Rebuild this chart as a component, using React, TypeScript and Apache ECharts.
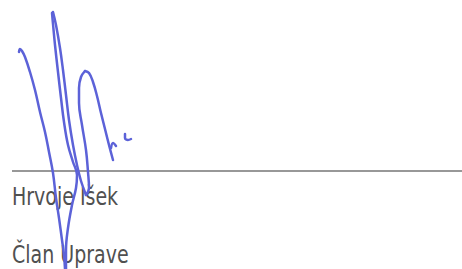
import React, { useEffect, useRef } from "react";
import * as echarts from "echarts";

const strokeLong: number[][] = [
  [19, 52], [20, 49], [22, 51], [25, 57], [30, 72], [35, 90], [40, 112], [45, 132], [49, 152], [53, 173], [56, 198], [59, 218], [62, 240], [64, 255], [65, 269],
];
const strokeTallLeft: number[][] = [
  [52, 13], [53, 24], [55, 45], [58, 72], [61, 98], [64, 122], [68, 145], [73, 162], [77, 175], [76, 188], [72, 205], [68, 228], [66, 250], [66, 269],
];
const strokeTallRight: number[][] = [
  [53, 12], [56, 25], [60, 48], [63, 70], [66, 95], [69, 120], [73, 145], [77, 165], [81, 181], [86, 195],
];
const strokeHumpLeft: number[][] = [
  [86, 195], [89, 188], [88, 172], [86, 150], [82, 125], [79, 103], [79, 88], [81, 77], [85, 71],
];
const strokeHumpRight: number[][] = [
  [85, 71], [89, 73], [93, 82], [97, 96], [101, 113], [105, 129], [109, 145], [113, 160],
];
const strokeHook: number[][] = [
  [111, 148], [113, 143], [116, 146],
];
const strokeTick: number[][] = [
  [125, 134], [125, 138], [128, 140], [131, 139],
];
const ruleLine: number[][] = [
  [12, 171], [462, 171],
];
const labels: string[] = ["Hrvoje Išek", "Član Uprave"];

const INK = "#5c62d8";
const FONT = "24px 'DejaVu Sans Condensed', 'DejaVu Sans', sans-serif";

export default function App() {
  const ref = useRef<HTMLDivElement>(null);
  useEffect(() => {
    document.body.style.margin = "0";
    const chart = echarts.init(ref.current!, null, { renderer: "svg" });
    const strokes = [strokeLong, strokeTallLeft, strokeTallRight, strokeHumpLeft, strokeHumpRight, strokeHook, strokeTick];
    chart.setOption({
      animation: false,
      backgroundColor: "#ffffff",
      grid: { left: 0, right: 0, top: 0, bottom: 0 },
      xAxis: { type: "value", min: 0, max: 462, show: false },
      yAxis: { type: "value", min: 0, max: 269, inverse: true, show: false },
      graphic: [
        {
          type: "text",
          x: 12,
          y: 184,
          scaleX: 0.88,
          z: 0,
          style: { text: labels[0], fill: "#505050", font: FONT, verticalAlign: "top" },
        },
        {
          type: "text",
          x: 12,
          y: 242,
          scaleX: 0.88,
          z: 0,
          style: { text: labels[1], fill: "#505050", font: FONT, verticalAlign: "top" },
        },
      ],
      series: [
        {
          type: "line",
          data: ruleLine,
          showSymbol: false,
          silent: true,
          z: 1,
          lineStyle: { color: "#767676", width: 1.6 },
        },
        ...strokes.map((s) => ({
          type: "line",
          data: s,
          smooth: 0.4,
          showSymbol: false,
          silent: true,
          z: 3,
          lineStyle: { color: INK, width: 2.5, cap: "round", join: "round" },
        })),
      ],
    });
    return () => chart.dispose();
  }, []);
  return <div ref={ref} style={{ width: 462, height: 269, position: "absolute", left: 0, top: 0 }} />;
}
